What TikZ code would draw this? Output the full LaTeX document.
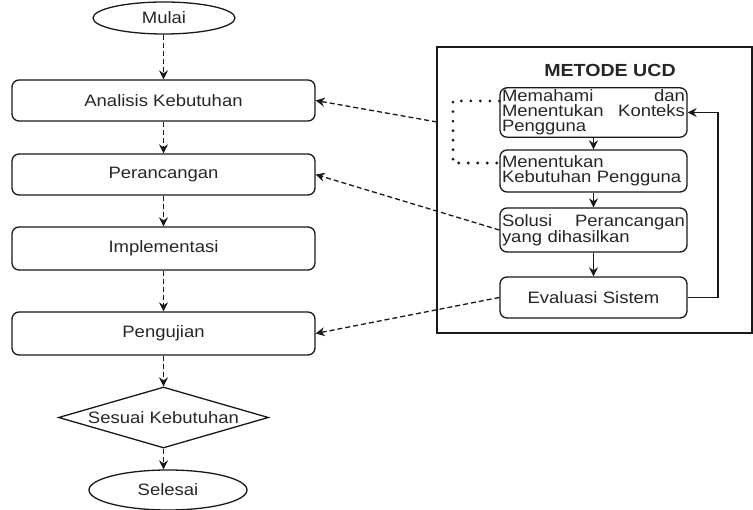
\documentclass[tikz,border=0pt]{standalone}
\usepackage{fontspec}
\setmainfont{Liberation Sans}[FakeStretch=1.12]
\usetikzlibrary{shapes.geometric,arrows.meta}
\begin{document}
\begin{tikzpicture}[x=1pt,y=-1pt,
  every node/.style={font=\fontsize{16.5}{15}\selectfont, text=black!85},
  ln/.style={draw=black!90, line width=1.3pt},
  lbox/.style={ln, rectangle, rounded corners=7pt, minimum width=303pt, inner sep=0pt},
  ubox/.style={ln, rectangle, rounded corners=7pt, minimum width=187pt, inner sep=2pt, text width=183pt, align=left},
  term/.style={ln, ellipse, inner sep=0pt},
  dec/.style={ln, diamond, aspect=3.44, inner sep=0pt, minimum width=210pt, minimum height=61pt},
  darr/.style={draw=black!90, line width=1.3pt, dash pattern=on 5pt off 3pt, -{Stealth[length=9pt,width=9pt]}},
  sarr/.style={draw=black!90, line width=1.3pt, -{Stealth[length=9pt,width=9pt]}},
  dotl/.style={draw=black!90, line width=3.2pt, dash pattern=on 0pt off 9.5pt, line cap=round}
]
\useasboundingbox (0,0) rectangle (753,510);
\fill[white] (0,0) rectangle (753,510);

% left column
\node[term, minimum width=142pt, minimum height=32pt] (M) at (164,18) {Mulai};
\node[lbox, minimum height=41pt] (A) at (163.5,100.5) {Analisis Kebutuhan};
\node[lbox, minimum height=41pt] (P) at (163.5,174.5) {Perancangan};
\node[lbox, minimum height=43pt] (I) at (163.5,248.5) {Implementasi};
\node[lbox, minimum height=43pt] (U) at (163.5,333.5) {Pengujian};
\node[dec] (D) at (163.5,417.5) {Sesuai Kebutuhan};
\node[term, minimum width=158pt, minimum height=40pt] (S) at (168,490) {Selesai};

\draw[darr] (M.south -| A.north) -- (A.north);
\draw[darr] (A.south) -- (P.north);
\draw[darr] (P.south) -- (I.north);
\draw[darr] (I.south) -- (U.north);
\draw[darr] (U.south) -- (D.north);
\draw[darr] (D.south) -- (D.south |- S.north);

% UCD frame
\node[ln, rectangle, minimum width=315pt, minimum height=286pt, inner sep=0pt] (F) at (594.5,190) {};
\node[font=\fontsize{17.5}{18}\selectfont\bfseries] (T) at (610,70) {METODE UCD};

\node[ubox, minimum height=41pt] (B1) at (593.5,112.5) {Memahami\hfill dan\\Menentukan\hfill Konteks\\Pengguna};
\node[ubox, minimum height=42pt] (B2) at (593.5,171) {Menentukan\\Kebutuhan Pengguna};
\node[ubox, minimum height=44pt] (B3) at (593.5,230) {Solusi\hfill Perancangan\\yang dihasilkan};
\node[ubox, minimum height=41pt, align=center] (B4) at (593.5,297.5) {Evaluasi Sistem};

\draw[sarr] (B1.south) -- (B2.north);
\draw[sarr] (B2.south) -- (B3.north);
\draw[sarr] (B3.south) -- (B4.north);
\coordinate (fb) at (718,297.5);
\draw[sarr] (B4.east) -- (fb) |- (B1.east);

\draw[dotl] ([yshift=11.5pt]B1.west) -- (453,101) -- (453,163) -- ([yshift=8pt]B2.west);

% cross links
\coordinate (f1) at (437,122);
\draw[darr] (f1) -- (A.east);
\draw[darr] (B3.west) -- (P.east);
\draw[darr] (B4.west) -- (U.east);
\end{tikzpicture}
\end{document}
